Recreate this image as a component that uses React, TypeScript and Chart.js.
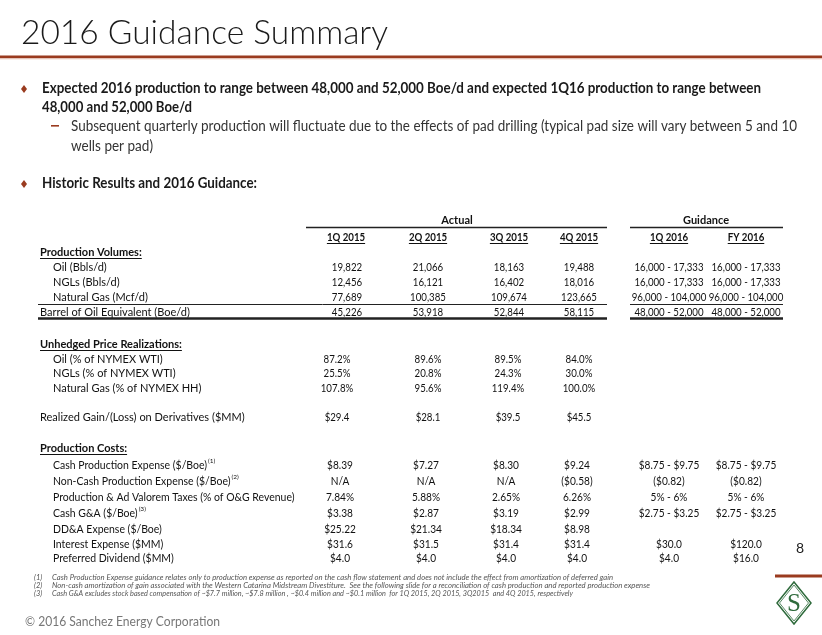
import React, { useEffect, useRef } from "react";
import { Chart, registerables } from "chart.js";
Chart.register(...registerables);

// ---------- data ----------
const titleText = "2016 Guidance Summary";
const bullet1 = [
  "Expected 2016 production to range between 48,000 and 52,000 Boe/d and expected 1Q16 production to range between",
  "48,000 and 52,000 Boe/d",
];
const subBullet = [
  "Subsequent quarterly production will fluctuate due to the effects of pad drilling (typical pad size will vary between 5 and 10",
  "wells per pad)",
];
const bullet2 = "Historic Results and 2016 Guidance:";

const actualHeaders = ["1Q 2015", "2Q 2015", "3Q 2015", "4Q 2015"];
const guidanceHeaders = ["1Q 2016", "FY 2016"];

const volumeLabels = ["Oil (Bbls/d)", "NGLs (Bbls/d)", "Natural Gas (Mcf/d)", "Barrel of Oil Equivalent (Boe/d)"];
const oilVolumes = ["19,822", "21,066", "18,163", "19,488", "16,000 - 17,333", "16,000 - 17,333"];
const nglVolumes = ["12,456", "16,121", "16,402", "18,016", "16,000 - 17,333", "16,000 - 17,333"];
const gasVolumes = ["77,689", "100,385", "109,674", "123,665", "96,000 - 104,000", "96,000 - 104,000"];
const boeVolumes = ["45,226", "53,918", "52,844", "58,115", "48,000 - 52,000", "48,000 - 52,000"];

const priceLabels = ["Oil (% of NYMEX WTI)", "NGLs (% of NYMEX WTI)", "Natural Gas (% of NYMEX HH)"];
const oilRealization = ["87.2%", "89.6%", "89.5%", "84.0%"];
const nglRealization = ["25.5%", "20.8%", "24.3%", "30.0%"];
const gasRealization = ["107.8%", "95.6%", "119.4%", "100.0%"];

const derivativesLabel = "Realized Gain/(Loss) on Derivatives ($MM)";
const derivatives = ["$29.4", "$28.1", "$39.5", "$45.5"];

const costLabels = [
  "Cash Production Expense ($/Boe)",
  "Non-Cash Production Expense ($/Boe)",
  "Production & Ad Valorem Taxes (% of O&G Revenue)",
  "Cash G&A ($/Boe)",
  "DD&A Expense ($/Boe)",
  "Interest Expense ($MM)",
  "Preferred Dividend ($MM)",
];
const costNotes = ["(1)", "(2)", "", "(3)", "", "", ""];
const cashProdExpense = ["$8.39", "$7.27", "$8.30", "$9.24", "$8.75 - $9.75", "$8.75 - $9.75"];
const nonCashProdExpense = ["N/A", "N/A", "N/A", "($0.58)", "($0.82)", "($0.82)"];
const prodTaxes = ["7.84%", "5.88%", "2.65%", "6.26%", "5% - 6%", "5% - 6%"];
const cashGA = ["$3.38", "$2.87", "$3.19", "$2.99", "$2.75 - $3.25", "$2.75 - $3.25"];
const ddaExpense = ["$25.22", "$21.34", "$18.34", "$8.98", "", ""];
const interestExpense = ["$31.6", "$31.5", "$31.4", "$31.4", "$30.0", "$120.0"];
const preferredDividend = ["$4.0", "$4.0", "$4.0", "$4.0", "$4.0", "$16.0"];

const footnotes = [
  "Cash Production Expense guidance relates only to production expense as reported on the cash flow statement and does not include the effect from amortization of deferred gain",
  "Non-cash amortization of gain associated with the Western Catarina Midstream Divestiture.  See the following slide for a reconciliation of cash production and reported production expense",
  "Cash G&A excludes stock based compensation of ~$7.7 million, ~$7.8 million , ~$0.4 million and ~$0.1 million  for 1Q 2015, 2Q 2015, 3Q2015  and 4Q 2015, respectively",
];
const copyright = "\u00A9 2016 Sanchez Energy Corporation";
const pageNumber = "8";

// ---------- layout (positions in slide units) ----------
const W = 822;
const H = 635;
const FONT = "Lato, 'Open Sans', 'DejaVu Sans', sans-serif";
const SERIF = "'Liberation Serif', 'DejaVu Serif', serif";
const RUST = "#9a3b1f";
const GREEN = "#2f6b3c";

const headerCols = [346, 428, 509, 579, 669, 746];
const volCols = [347, 428, 509, 579, 669, 746];
const priceCols = [337, 428, 508, 579];
const costCols = [340, 426, 506, 577, 669, 746];
const volRowsY = [267, 282, 297, 312];
const priceRowsY = [359, 373, 388];
const costRowsY = [465, 481, 497, 513, 529, 544, 558];
const footnoteY = [578, 586, 594];
const footnoteW = [561, 598, 521];

type TOpt = {
  size: number;
  weight?: number;
  italic?: boolean;
  color?: string;
  align?: CanvasTextAlign;
  sx?: number;
  width?: number;
  baseline?: CanvasTextBaseline;
  underline?: boolean;
  family?: string;
};

function drawText(ctx: CanvasRenderingContext2D, s: string, x: number, y: number, o: TOpt) {
  ctx.save();
  ctx.font = `${o.italic ? "italic " : ""}${o.weight || 400} ${o.size}px ${o.family || FONT}`;
  ctx.fillStyle = o.color || "#111";
  ctx.textAlign = o.align || "left";
  ctx.textBaseline = o.baseline || "middle";
  const w = ctx.measureText(s).width;
  let sx = o.sx || 1;
  if (o.width) sx = o.width / w;
  ctx.translate(x, y);
  ctx.scale(sx, 1);
  ctx.fillText(s, 0, 0);
  ctx.restore();
  const dw = w * sx;
  if (o.underline) {
    let x0 = x;
    if (o.align === "center") x0 = x - dw / 2;
    else if (o.align === "right") x0 = x - dw;
    const uy = Math.round(y + o.size * 0.5) + 0.5;
    ctx.save();
    ctx.strokeStyle = o.color || "#111";
    ctx.lineWidth = 1;
    ctx.beginPath();
    ctx.moveTo(x0, uy);
    ctx.lineTo(x0 + dw, uy);
    ctx.stroke();
    ctx.restore();
  }
  return dw;
}

const slidePlugin = {
  id: "slide",
  afterDraw(chart: any) {
    const ctx: CanvasRenderingContext2D = chart.ctx;
    const xs = chart.scales.x;
    const ys = chart.scales.y;
    const X = (v: number) => xs.getPixelForValue(v);
    const Y = (v: number) => ys.getPixelForValue(v);

    ctx.save();
    ctx.fillStyle = "#fff";
    ctx.fillRect(0, 0, W, H);
    ctx.restore();

    // title
    drawText(ctx, titleText, X(21), Y(44), { size: 33, weight: 300, color: "#1a1a1a", baseline: "alphabetic", width: 367 });
    ctx.fillStyle = RUST;
    ctx.fillRect(X(0), Y(55.5), X(W) - X(0), 2.8);
    ctx.fillStyle = "#e6c3b6";
    ctx.fillRect(X(0), Y(58.3), X(W) - X(0), 1);

    // bullets
    const diamond = (cx: number, cy: number) => {
      ctx.save();
      ctx.fillStyle = RUST;
      ctx.beginPath();
      ctx.moveTo(X(cx), Y(cy - 4));
      ctx.lineTo(X(cx + 3), Y(cy));
      ctx.lineTo(X(cx), Y(cy + 4));
      ctx.lineTo(X(cx - 3), Y(cy));
      ctx.closePath();
      ctx.fill();
      ctx.restore();
    };
    diamond(24, 89);
    drawText(ctx, bullet1[0], X(42), Y(88), { size: 14.5, weight: 700, color: "#1a1a1a", width: 719 });
    drawText(ctx, bullet1[1], X(42), Y(107), { size: 14.5, weight: 700, color: "#1a1a1a", width: 150 });
    ctx.fillStyle = RUST;
    ctx.fillRect(X(51), Y(125), 8, 1.6);
    drawText(ctx, subBullet[0], X(71), Y(126), { size: 14.5, color: "#333", width: 726 });
    drawText(ctx, subBullet[1], X(71), Y(146), { size: 14.5, color: "#333", width: 82 });
    diamond(24, 184);
    drawText(ctx, bullet2, X(42), Y(183), { size: 14.5, weight: 700, color: "#1a1a1a", width: 215 });

    // table headers
    const tsz = 11;
    const numSx = 0.88;
    drawText(ctx, "Actual", X(457), Y(220), { size: tsz, weight: 700, align: "center" });
    drawText(ctx, "Guidance", X(706), Y(220), { size: tsz, weight: 700, align: "center" });
    const hline = (x0: number, x1: number, y: number, lw: number) => {
      ctx.save();
      ctx.strokeStyle = "#222";
      ctx.lineWidth = lw;
      ctx.beginPath();
      ctx.moveTo(X(x0), Y(y));
      ctx.lineTo(X(x1), Y(y));
      ctx.stroke();
      ctx.restore();
    };
    hline(306, 607, 227.5, 1.6);
    hline(630, 783, 227.5, 1.6);
    [...actualHeaders, ...guidanceHeaders].forEach((h, i) => {
      drawText(ctx, h, X(headerCols[i]), Y(237), { size: tsz, weight: 700, align: "center", sx: numSx, underline: true });
    });

    // production volumes
    drawText(ctx, "Production Volumes:", X(40), Y(252), { size: tsz, weight: 700, underline: true });
    const volRows = [oilVolumes, nglVolumes, gasVolumes, boeVolumes];
    volRows.forEach((row, r) => {
      drawText(ctx, volumeLabels[r], X(r === 3 ? 40 : 53), Y(volRowsY[r]), { size: tsz });
      row.forEach((v, c) => {
        drawText(ctx, v, X(volCols[c]), Y(volRowsY[r]), { size: tsz, align: "center", sx: numSx });
      });
    });
    hline(38, 607, 304.5, 1);
    hline(630, 783, 304.5, 1);
    hline(38, 607, 318.5, 2.4);
    hline(630, 783, 318.5, 2.4);

    // price realizations
    drawText(ctx, "Unhedged Price Realizations:", X(40), Y(344), { size: tsz, weight: 700, underline: true });
    const priceRows = [oilRealization, nglRealization, gasRealization];
    priceRows.forEach((row, r) => {
      drawText(ctx, priceLabels[r], X(53), Y(priceRowsY[r]), { size: tsz });
      row.forEach((v, c) => {
        drawText(ctx, v, X(priceCols[c]), Y(priceRowsY[r]), { size: tsz, align: "center", sx: numSx });
      });
    });
    drawText(ctx, derivativesLabel, X(40), Y(417), { size: tsz });
    derivatives.forEach((v, c) => {
      drawText(ctx, v, X(priceCols[c]), Y(417), { size: tsz, align: "center", sx: numSx });
    });

    // production costs
    drawText(ctx, "Production Costs:", X(40), Y(448), { size: tsz, weight: 700, underline: true });
    const costRows = [cashProdExpense, nonCashProdExpense, prodTaxes, cashGA, ddaExpense, interestExpense, preferredDividend];
    costRows.forEach((row, r) => {
      const w = drawText(ctx, costLabels[r], X(53), Y(costRowsY[r]), { size: 11.5, sx: 0.91 });
      if (costNotes[r]) {
        drawText(ctx, costNotes[r], X(53) + w + 1, Y(costRowsY[r] - 4), { size: 6.5 });
      }
      row.forEach((v, c) => {
        if (v) drawText(ctx, v, X(costCols[c]), Y(costRowsY[r]), { size: 11.5, align: "center", sx: numSx });
      });
    });

    // page number
    drawText(ctx, pageNumber, X(800), Y(548), { size: 14, color: "#222", align: "center" });

    // footnotes
    footnotes.forEach((f, i) => {
      drawText(ctx, `(${i + 1})`, X(34), Y(footnoteY[i]), { size: 7.5, italic: true, color: "#555" });
      drawText(ctx, f, X(52), Y(footnoteY[i]), { size: 7.5, italic: true, color: "#555", width: footnoteW[i] });
    });

    // copyright
    drawText(ctx, copyright, X(25), Y(622), { size: 12.5, color: "#777", width: 195 });

    // logo
    ctx.fillStyle = RUST;
    ctx.fillRect(X(775), Y(574.5), X(W) - X(775), 3);
    const cx = X(794), cy = Y(603);
    ctx.save();
    ctx.strokeStyle = GREEN;
    [[17, 21, 1.5], [14.5, 18, 0.8]].forEach(([hw, hh, lw]) => {
      ctx.lineWidth = lw;
      ctx.beginPath();
      ctx.moveTo(cx, cy - hh);
      ctx.lineTo(cx + hw, cy);
      ctx.lineTo(cx, cy + hh);
      ctx.lineTo(cx - hw, cy);
      ctx.closePath();
      ctx.stroke();
    });
    ctx.restore();
    drawText(ctx, "S", cx, cy + 1.5, { size: 25, color: GREEN, align: "center", family: SERIF });
  },
};

export default function App() {
  const ref = useRef<HTMLCanvasElement | null>(null);
  useEffect(() => {
    if (!ref.current) return;
    const chart = new Chart(ref.current, {
      type: "scatter",
      data: { datasets: [] },
      options: {
        animation: false,
        responsive: false,
        events: [],
        layout: { padding: 0 },
        plugins: { legend: { display: false }, tooltip: { enabled: false } },
        scales: {
          x: { type: "linear", min: 0, max: W, display: false },
          y: { type: "linear", min: 0, max: H, reverse: true, display: false },
        },
      },
      plugins: [slidePlugin],
    });
    return () => chart.destroy();
  }, []);
  return (
    <div style={{ position: "fixed", left: 0, top: 0, width: W, height: H, background: "#fff" }}>
      <canvas ref={ref} width={W} height={H} style={{ display: "block", width: W, height: H }} />
    </div>
  );
}
